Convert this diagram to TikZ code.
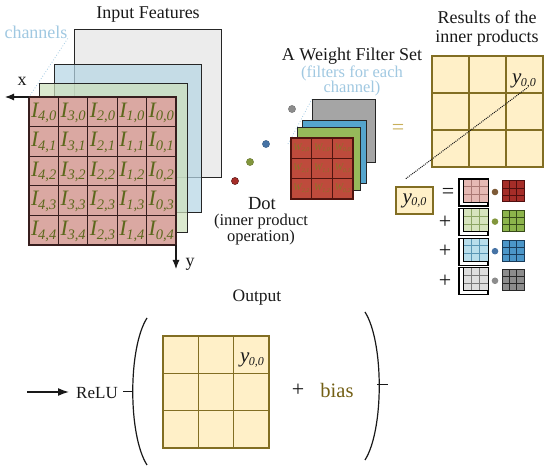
\documentclass[tikz,border=0pt]{standalone}
\usepackage{fontspec}
\setmainfont{Liberation Serif}
\usetikzlibrary{arrows.meta,calc}
\definecolor{txtblack}{RGB}{25,25,25}
\definecolor{inred}{RGB}{218,168,162}
\definecolor{ingreen}{RGB}{205,224,188}
\definecolor{inblue}{RGB}{182,214,228}
\definecolor{ingray}{RGB}{236,236,236}
\definecolor{olive}{RGB}{92,104,28}
\definecolor{gridline}{RGB}{55,30,30}
\definecolor{fred}{RGB}{190,75,60}
\definecolor{fredl}{RGB}{80,20,15}
\definecolor{fgreen}{RGB}{150,185,90}
\definecolor{fblue}{RGB}{85,165,205}
\definecolor{fgray}{RGB}{165,165,165}
\definecolor{wlab}{RGB}{140,115,40}
\definecolor{yfill}{RGB}{255,240,200}
\definecolor{gold}{RGB}{130,110,35}
\definecolor{ltblue}{RGB}{160,200,225}
\definecolor{biascol}{RGB}{115,95,20}
\definecolor{eqgold}{RGB}{200,175,90}
\definecolor{pinkf}{RGB}{230,185,180}
\definecolor{pinkl}{RGB}{170,120,115}
\definecolor{lgrf}{RGB}{215,228,190}
\definecolor{lgrl}{RGB}{140,165,100}
\definecolor{lblf}{RGB}{185,222,235}
\definecolor{lbll}{RGB}{90,150,180}
\definecolor{lgyf}{RGB}{222,222,222}
\definecolor{lgyl}{RGB}{120,120,120}
\definecolor{dbr}{RGB}{125,90,55}
\definecolor{dgr}{RGB}{130,150,60}
\definecolor{dbl}{RGB}{70,115,165}
\definecolor{dgy}{RGB}{140,140,140}
\definecolor{sred}{RGB}{165,45,40}
\definecolor{sredl}{RGB}{80,15,15}
\definecolor{sgrn}{RGB}{140,180,75}
\definecolor{sgrnl}{RGB}{55,75,25}
\definecolor{sblu}{RGB}{75,150,200}
\definecolor{sblul}{RGB}{25,60,90}
\definecolor{sgry}{RGB}{140,140,140}
\definecolor{sgryl}{RGB}{40,40,40}
\newcommand\Ilab[2]{{\fontsize{22}{22}\selectfont\itshape I\kern-0.3pt\raisebox{-3.5pt}{\fontsize{14.5}{14.5}\selectfont#1,#2}}}
\newcommand\Wlab[2]{{\fontsize{10}{10}\selectfont\itshape W\raisebox{-1.5pt}{\fontsize{6}{6}\selectfont#1,#2}}}
\newcommand\yzz{{\fontsize{21}{21}\selectfont\itshape y\kern-0.5pt\raisebox{-2.5pt}{\fontsize{12}{12}\selectfont 0,0}}}
\begin{document}
\begin{tikzpicture}[x=1pt,y=-1pt,
  txt/.style={inner sep=0pt, text=txtblack, font=\fontsize{18}{18}\selectfont},
  smalltxt/.style={inner sep=0pt, text=txtblack, font=\fontsize{16.5}{16.5}\selectfont},
  bluetxt/.style={inner sep=0pt, text=ltblue, font=\fontsize{16.5}{16.5}\selectfont},
  cell/.style={inner sep=0pt, text=olive},
  axarrow/.style={line width=1.1pt, draw=txtblack, -{Latex[length=9pt,width=7pt]}},
  ygrid/.style={fill=yfill, draw=gold, line width=1.1pt}]
\useasboundingbox (0,0) rectangle (550,473);
% ---------- input feature layers ----------
\filldraw[fill=ingray, draw=black!85, line width=0.9pt] (74,29) rectangle (221,177);
\filldraw[fill=inblue, fill opacity=0.72, draw=black!85, line width=0.9pt] (54,64) rectangle (201,212);
\filldraw[fill=ingreen, fill opacity=0.72, draw=black!85, line width=0.9pt] (39,83) rectangle (187,232);
\fill[inred] (29,97) rectangle (176,245);
\foreach \k in {1,...,4}{
  \draw[gridline, line width=1pt] ({29+29.4*\k},97) -- ({29+29.4*\k},245);
  \draw[gridline, line width=1pt] (29,{97+29.6*\k}) -- (176,{97+29.6*\k});
}
\draw[gridline, line width=1.1pt] (29,97) rectangle (176,245);
\foreach \r in {0,...,4}{
  \foreach \c in {0,...,4}{
    \pgfmathtruncatemacro\ci{4-\c}
    \pgfmathtruncatemacro\rj{and(\r==4,\c==2) ? 3 : \r}
    \node[cell] (c\c\r) at ({29+29.4*(\c+0.5)},{97+29.6*(\r+0.5)+1}) {\Ilab{\ci}{\rj}};
  }
}
% channels label
\node[bluetxt, font=\fontsize{18}{18}\selectfont] (chan) at (36,32) {channels};
\coordinate (redtl) at (29,97);
\draw[ltblue, dotted, line width=0.8pt] (chan.south east) -- (redtl);
% axes
\coordinate (xend) at (5,97);
\coordinate (redbr) at (176,245);
\coordinate (yend) at (176,269);
\draw[axarrow] (redtl) -- (xend);
\draw[axarrow] (redbr) -- (yend);
\node[txt] (xlab) at (22,81) {x};
\node[txt] (ylab) at (190,264) {y};
\node[txt] (inputtitle) at (148,15) {Input Features};
% ---------- weight filter set ----------
\coordinate (fredtl) at (291,138);
\coordinate (fgraytl) at (312,99);
\draw[ltblue, dotted, line width=0.8pt] ($(fredtl)+(-3,6)$) -- (fgraytl);
\filldraw[fill=fgray, draw=black!85, line width=0.9pt] (312,99) rectangle (375,162);
\filldraw[fill=fblue, draw=black!85, line width=0.9pt] (302,120) rectangle (366,183);
\filldraw[fill=fgreen, draw=black!85, line width=0.9pt] (297,127) rectangle (360,190);
\fill[fred] (291,138) rectangle (353,199);
\foreach \k in {1,2}{
  \draw[fredl, line width=1pt] ({291+20.67*\k},138) -- ({291+20.67*\k},199);
  \draw[fredl, line width=1pt] (291,{138+20.33*\k}) -- (353,{138+20.33*\k});
}
\draw[fredl, line width=1.1pt] (291,138) rectangle (353,199);
\foreach \r in {0,1,2}{
  \foreach \c in {0,1,2}{
    \pgfmathtruncatemacro\ci{2-\c}
    \node[inner sep=0pt, text=wlab] (w\c\r) at ({291+20.67*(\c+0.5)},{138+20.33*(\r+0.5)}) {\Wlab{\ci}{\r}};
  }
}
% dots
\filldraw[fill=dgy, draw=dgy!80!black] (292,109) circle (3.6);
\filldraw[fill=dbl, draw=dbl!80!black] (266,144) circle (3.6);
\filldraw[fill=dgr, draw=dgr!80!black] (250,162) circle (3.6);
\filldraw[fill=sred, draw=sredl] (235,181) circle (3.6);
\node[txt] (wtitle) at (352,56) {A Weight Filter Set};
\node[bluetxt] (wsub1) at (352,73) {(filters for each};
\node[bluetxt] (wsub2) at (352,89) {channel)};
\node[txt, font=\fontsize{18.5}{18.5}\selectfont] (dot) at (262,204) {Dot};
\node[smalltxt] (dot2) at (261,222) {(inner product};
\node[smalltxt] (dot3) at (261,238) {operation)};
\node[inner sep=0pt, text=eqgold, font=\fontsize{22}{22}\selectfont] (eq1) at (398,129) {=};
% ---------- results of inner products ----------
\node[txt] (res1) at (487,17) {Results of the};
\node[txt] (res2) at (487,38) {inner products};
\filldraw[ygrid] (432,56) rectangle (543,167);
\foreach \k in {1,2}{
  \draw[gold, line width=1.1pt] ({432+37*\k},56) -- ({432+37*\k},167);
  \draw[gold, line width=1.1pt] (432,{56+37*\k}) -- (543,{56+37*\k});
}
\node[inner sep=0pt, text=txtblack] (yres) at (524,81) {\yzz};
\node[draw=gold, fill=yfill, line width=1.1pt, minimum width=37pt, minimum height=27pt, inner sep=0pt, text=txtblack] (ybox) at (414.5,200.5) {\yzz};
\coordinate (dotend) at (527,88);
\draw[txtblack, densely dotted, line width=1pt, shorten <=13pt] (ybox.north west) -- (dotend);
% equation rows
\node[txt, font=\fontsize{22}{22}\selectfont] (eq2) at (448,193) {=};
\foreach \k/\lf/\ll/\dc/\ff/\fl in {0/pinkf/pinkl/dbr/sred/sredl,1/lgrf/lgrl/dgr/sgrn/sgrnl,2/lblf/lbll/dbl/sblu/sblul,3/lgyf/lgyl/dgy/sgry/sgryl}{
  \pgfmathsetmacro\yc{192+29.6*\k}
  \draw[black, line width=1.1pt] (459,{\yc-13}) rectangle (488,{\yc+14});
  \fill[\lf] (463,{\yc-13}) rectangle (488,{\yc+10});
  \foreach \m in {1,2}{
    \draw[\ll, line width=0.8pt] ({463+8.33*\m},{\yc-13}) -- ({463+8.33*\m},{\yc+10});
    \draw[\ll, line width=0.8pt] (463,{\yc-13+7.67*\m}) -- (488,{\yc-13+7.67*\m});
  }
  \draw[black, line width=0.9pt] (463,{\yc-13}) rectangle (488,{\yc+10});
  \fill[\dc] (495,\yc) circle (3.3);
  \fill[\ff] (502,{\yc-11}) rectangle (524,{\yc+10});
  \foreach \m in {1,2}{
    \draw[\fl, line width=0.9pt] ({502+7.33*\m},{\yc-11}) -- ({502+7.33*\m},{\yc+10});
    \draw[\fl, line width=0.9pt] (502,{\yc-11+7*\m}) -- (524,{\yc-11+7*\m});
  }
  \draw[\fl, line width=1pt] (502,{\yc-11}) rectangle (524,{\yc+10});
}
\node[txt, font=\fontsize{22}{22}\selectfont] (p1) at (445,222) {+};
\node[txt, font=\fontsize{22}{22}\selectfont] (p2) at (445,251) {+};
\node[txt, font=\fontsize{22}{22}\selectfont] (p3) at (445,281) {+};
% ---------- output ----------
\node[txt, font=\fontsize{17.5}{17.5}\selectfont] (outtitle) at (257,298) {Output};
\filldraw[ygrid] (163,336) rectangle (269,448);
\foreach \k in {1,2}{
  \draw[gold, line width=1.1pt] ({163+35.33*\k},336) -- ({163+35.33*\k},448);
  \draw[gold, line width=1.1pt] (163,{336+37.33*\k}) -- (269,{336+37.33*\k});
}
\node[inner sep=0pt, text=txtblack] (yout) at (252,360) {\yzz};
\draw[txtblack, line width=1.2pt] (147,318) .. controls (128,348) and (128,435) .. (147,465);
\draw[txtblack, line width=1.2pt] (365,312) .. controls (384,342) and (384,430) .. (365,460);
\node[txt, font=\fontsize{22}{22}\selectfont] (plus) at (298,390) {+};
\node[inner sep=0pt, text=biascol, font=\fontsize{20.5}{20.5}\selectfont] (bias) at (337,390) {bias};
\coordinate (rdash1) at (377,385);
\coordinate (rdash2) at (388,385);
\draw[txtblack, line width=1pt] (rdash1) -- (rdash2);
\node[txt, font=\fontsize{17}{17}\selectfont] (relu) at (97,393) {ReLU};
\coordinate (ldash1) at (123,392);
\coordinate (ldash2) at (133,392);
\draw[txtblack, line width=1pt] (ldash1) -- (ldash2);
\coordinate (arrstart) at (27,392);
\coordinate (arrend) at (69,392);
\draw[line width=1.5pt, txtblack, -{Latex[length=11pt,width=8pt]}] (arrstart) -- (arrend);
\end{tikzpicture}
\end{document}
